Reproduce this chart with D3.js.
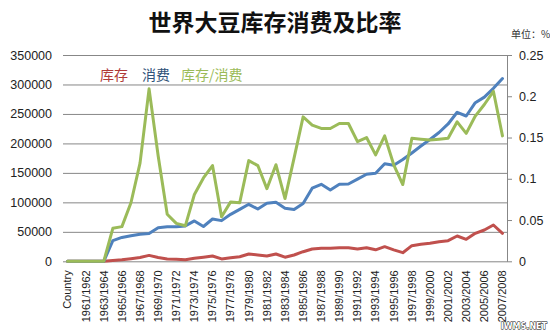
<!DOCTYPE html>
<html>
<head>
<meta charset="utf-8">
<script src="https://cdn.jsdelivr.net/npm/d3@7"></script>
<style>
  html, body { margin: 0; padding: 0; background: #ffffff; }
  svg { display: block; }
</style>
</head>
<body>
<svg id="chart" width="550" height="331"></svg>
<script>
// ---- Data ----
const categories = [
  "Country", "1960/1961", "1961/1962", "1962/1963", "1963/1964", "1964/1965", "1965/1966",
  "1966/1967", "1967/1968", "1968/1969", "1969/1970", "1970/1971", "1971/1972", "1972/1973",
  "1973/1974", "1974/1975", "1975/1976", "1976/1977", "1977/1978", "1978/1979", "1979/1980",
  "1980/1981", "1981/1982", "1982/1983", "1983/1984", "1984/1985", "1985/1986", "1986/1987",
  "1987/1988", "1988/1989", "1989/1990", "1990/1991", "1991/1992", "1992/1993", "1993/1994",
  "1994/1995", "1995/1996", "1996/1997", "1997/1998", "1998/1999", "1999/2000", "2000/2001",
  "2001/2002", "2002/2003", "2003/2004", "2004/2005", "2005/2006", "2006/2007", "2007/2008"
];
// 库存 (stocks), left axis
const stocks = [
  0, 0, 0, 0, 0, 1500, 2500, 4500, 6500, 10000, 6500, 4000, 3500, 2500,
  5000, 7000, 9000, 4000, 6000, 7800, 12400, 10700, 9000, 12400,
  7000, 10700, 16300, 20900, 22000, 22000, 23000, 23000, 21000, 23000,
  19500, 24800, 19500, 14600, 26500, 28800, 30500, 33300, 35000, 42900,
  37300, 47500, 53100, 61600, 47500
];
// 消费 (consumption), left axis
const consumption = [
  0, 0, 0, 0, 0, 35000, 40500, 43500, 45800, 47000, 57000, 58700, 58700, 60000,
  68500, 59000, 71800, 69000, 79700, 88000, 96700, 88700, 98400, 100000,
  90000, 88000, 98000, 124000, 130600, 121000, 130600, 131200, 139300, 147600,
  149300, 165500, 163000, 172700, 183800, 195600, 206700, 218500, 233000, 252800,
  246500, 269100, 278500, 293500, 310000
];
// 库存/消费 (ratio), right axis
const ratio = [
  0, 0, 0, 0, 0, 0.040, 0.042, 0.071, 0.119, 0.209, 0.128, 0.057, 0.046, 0.043,
  0.081, 0.101, 0.116, 0.054, 0.072, 0.071, 0.122, 0.116, 0.088, 0.117,
  0.076, 0.125, 0.175, 0.165, 0.161, 0.161, 0.167, 0.167, 0.145, 0.150,
  0.129, 0.152, 0.117, 0.093, 0.149, 0.148, 0.147, 0.148, 0.149, 0.169,
  0.155, 0.176, 0.190, 0.206, 0.152
];
const leftTicks = [0, 50000, 100000, 150000, 200000, 250000, 300000, 350000];
const rightTicks = [0, 0.05, 0.1, 0.15, 0.2, 0.25];
const rightTickLabels = ["0", "0.05", "0.1", "0.15", "0.2", "0.25"];
const seriesNames = ["库存", "消费", "库存/消费"];
const titleText = "世界大豆库存消费及比率";
const unitText = "单位：%";

// ---- Layout ----
const plot = { left: 63, right: 507, top: 55, bottom: 261.3 };
const colors = { stock: "#C0504D", cons: "#4F81BD", ratio: "#9BBB59" };
const svg = d3.select("#chart");

const x = d3.scaleBand().domain(categories).range([plot.left, plot.right]).padding(0);
const bw = x.bandwidth();
const yL = d3.scaleLinear().domain([0, 350000]).range([plot.bottom, plot.top]);
const yR = d3.scaleLinear().domain([0, 0.25]).range([plot.bottom, plot.top]);

// Title
svg.append("text")
  .attr("x", 275).attr("y", 31)
  .attr("text-anchor", "middle")
  .attr("font-family", "'Noto Sans CJK SC', sans-serif")
  .attr("font-weight", 700)
  .attr("font-size", 23)
  .attr("fill", "#111")
  .text(titleText);

svg.append("text")
  .attr("x", 511).attr("y", 38)
  .attr("font-family", "'Noto Sans CJK SC', sans-serif")
  .attr("font-size", 10)
  .attr("fill", "#333")
  .text(unitText);

// Left axis with gridlines
const gL = svg.append("g").attr("transform", `translate(${plot.left},0)`)
  .call(d3.axisLeft(yL).tickValues(leftTicks).tickSize(-(plot.right - plot.left)).tickPadding(11)
    .tickFormat(d3.format("d")));
gL.select(".domain").remove();
gL.selectAll(".tick line").attr("stroke", "#878787").attr("stroke-width", 1);
gL.selectAll(".tick text")
  .attr("font-family", "'Liberation Sans', Arial, sans-serif")
  .attr("font-size", 12.5).attr("fill", "#222");

// Right axis
const gR = svg.append("g").attr("transform", `translate(${plot.right},0)`)
  .call(d3.axisRight(yR).tickValues(rightTicks).tickSize(5).tickSizeOuter(0).tickPadding(7)
    .tickFormat((d, i) => rightTickLabels[i]));
gR.select(".domain").attr("stroke", "#878787");
gR.selectAll(".tick line").attr("stroke", "#878787");
gR.selectAll(".tick text")
  .attr("font-family", "'Liberation Sans', Arial, sans-serif")
  .attr("font-size", 12.5).attr("fill", "#222");

// Bottom axis (labels only)
const gB = svg.append("g").attr("transform", `translate(0,${plot.bottom})`)
  .call(d3.axisBottom(x).tickValues(categories.filter((d, i) => i % 2 === 0)).tickSize(0));
gB.select(".domain").remove();
gB.selectAll(".tick text")
  .attr("font-family", "'Liberation Sans', Arial, sans-serif")
  .attr("font-size", 11).attr("fill", "#222")
  .attr("transform", "rotate(-90)")
  .attr("text-anchor", "end")
  .attr("x", -9).attr("y", 0).attr("dy", "0.35em");

// Lines
const lineL = d3.line().x((d, i) => x(categories[i]) + bw / 2).y(d => yL(d));
const lineR = d3.line().x((d, i) => x(categories[i]) + bw / 2).y(d => yR(d));
function drawLine(data, gen, color) {
  svg.append("path").datum(data)
    .attr("d", gen)
    .attr("fill", "none")
    .attr("stroke", color)
    .attr("stroke-width", 3)
    .attr("stroke-linejoin", "round")
    .attr("stroke-linecap", "round");
}
drawLine(stocks, lineL, colors.stock);
drawLine(consumption, lineL, colors.cons);
drawLine(ratio, lineR, colors.ratio);

// Legend
const legend = [
  { name: seriesNames[0], x: 100, color: "#B03A38" },
  { name: seriesNames[1], x: 142, color: "#2F5279" },
  { name: seriesNames[2], x: 181, color: "#9BBB59" }
];
svg.append("g").selectAll("text").data(legend).join("text")
  .attr("x", d => d.x).attr("y", 80)
  .attr("font-family", "'Noto Sans CJK SC', sans-serif")
  .attr("font-size", 14)
  .attr("fill", d => d.color)
  .text(d => d.name);

// Watermark
svg.append("text")
  .attr("x", 547).attr("y", 329)
  .attr("text-anchor", "end")
  .attr("font-family", "'DejaVu Sans', sans-serif")
  .attr("font-weight", 700)
  .attr("font-size", 8)
  .attr("fill", "#fff")
  .attr("stroke", "#000")
  .attr("stroke-width", 0.8)
  .attr("paint-order", "stroke")
  .text("IWMS.NET");
</script>
</body>
</html>
